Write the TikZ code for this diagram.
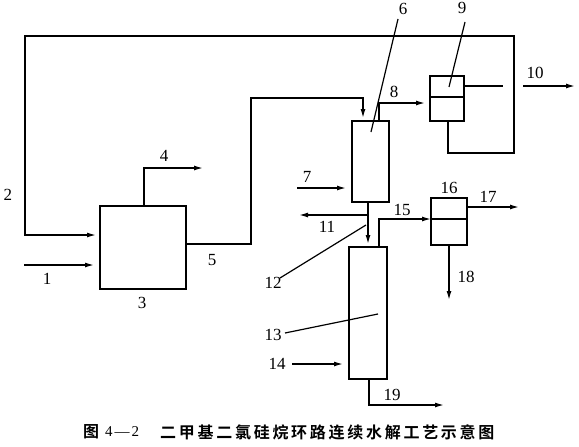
\documentclass[tikz,border=0pt]{standalone}
\usepackage{fontspec}
\setmainfont{Liberation Serif}
\newfontfamily\cjkfont[LetterSpace=17]{Noto Sans CJK SC Bold}
\newfontfamily\cjkone{Noto Sans CJK SC Bold}
\usetikzlibrary{arrows.meta}
\tikzset{
  unit/.style={draw,line width=1.4pt,minimum width=#1,inner sep=0pt,outer sep=0pt},
  num/.style={font=\fontsize{17}{17}\selectfont,inner sep=0pt},
  pipe/.style={line width=1.4pt},
  flow/.style={line width=1.4pt,-{Latex[length=9pt,width=5pt]}},
  leader/.style={line width=1.2pt}
}
\begin{document}
\begin{tikzpicture}[x=1pt,y=-1pt]
\useasboundingbox (0,0) rectangle (579,447);
% units
\node[unit=86pt,minimum height=83pt] (b3) at (143,247.5) {};
\node[unit=37pt,minimum height=81pt] (b6) at (370.5,161.5) {};
\node[unit=34pt,minimum height=45pt] (b9) at (447,98.5) {};
\node[unit=36pt,minimum height=47pt] (b16) at (449,221.5) {};
\node[unit=38pt,minimum height=132pt] (b13) at (368,313) {};
% internal dividers
\draw[pipe] (b9.west |- 0,97) -- (b9.east |- 0,97);
\draw[pipe] (b16.west |- 0,219) -- (b16.east |- 0,219);
% named free ends
\coordinate (c2a) at (25,235);
\coordinate (c2b) at (25,36);
\coordinate (c2c) at (514,36);
\coordinate (c2d) at (514,153);
\coordinate (c2e) at (448,153);
\coordinate (e2) at (96,235);
\coordinate (s1) at (24,265);
\coordinate (e1) at (94,265);
\coordinate (c4a) at (144,168);
\coordinate (e4) at (203,168);
\coordinate (c5a) at (251,244);
\coordinate (c5b) at (251,98);
\coordinate (c5c) at (363,98);
\coordinate (e5) at (363,118);
\coordinate (c8a) at (379,103);
\coordinate (e8) at (425,103);
\coordinate (s7) at (297,188);
\coordinate (e7) at (346,188);
\coordinate (e9) at (503,86);
\coordinate (s10) at (523,86);
\coordinate (e10) at (575,86);
\coordinate (j11) at (368,215);
\coordinate (e11) at (299,215);
\coordinate (e6d) at (368,244);
\coordinate (c15a) at (379,219);
\coordinate (e15) at (431,219);
\coordinate (e17) at (519,207);
\coordinate (e18) at (449,300);
\coordinate (s14) at (292,364);
\coordinate (e14) at (343,364);
\coordinate (c19a) at (369,405);
\coordinate (e19) at (444,405);
% connectors
\draw[flow] (c2e |- b9.south) -- (c2e) -- (c2d) -- (c2c) -- (c2b) -- (c2a) -- (e2);
\draw[flow] (s1) -- (e1);
\draw[flow] (c4a |- b3.north) -- (c4a) -- (e4);
\draw[flow] (b3.east |- c5a) -- (c5a) -- (c5b) -- (c5c) -- (e5);
\draw[flow] (c8a |- b6.north) -- (c8a) -- (e8);
\draw[flow] (s7) -- (e7);
\draw[pipe] (b9.east |- e9) -- (e9);
\draw[flow] (s10) -- (e10);
\draw[flow] (e6d |- b6.south) -- (e6d);
\draw[flow] (j11) -- (e11);
\draw[flow] (c15a |- b13.north) -- (c15a) -- (e15);
\draw[flow] (b16.east |- e17) -- (e17);
\draw[flow] (e18 |- b16.south) -- (e18);
\draw[flow] (s14) -- (e14);
\draw[flow] (c19a |- b13.south) -- (c19a) -- (e19);
% labels
\node[num] (l1) at (47,279) {1};
\node[num] (l2) at (8,195) {2};
\node[num] (l3) at (142,303) {3};
\node[num] (l4) at (164,156) {4};
\node[num] (l5) at (212,260) {5};
\node[num] (l6) at (403,9) {6};
\node[num] (l7) at (307,177) {7};
\node[num] (l8) at (394,92) {8};
\node[num] (l9) at (462,8) {9};
\node[num] (l10) at (535,73) {10};
\node[num] (l11) at (327,227) {11};
\node[num] (l12) at (273,283) {12};
\node[num] (l13) at (273,335) {13};
\node[num] (l14) at (277,364) {14};
\node[num] (l15) at (402,210) {15};
\node[num] (l16) at (449,188) {16};
\node[num] (l17) at (488,197) {17};
\node[num] (l18) at (466,277) {18};
\node[num] (l19) at (392,395) {19};
% leader lines
\coordinate (t6) at (371,132);
\coordinate (t9) at (449,87);
\coordinate (t12) at (366,225);
\coordinate (t13) at (378,314);
\draw[leader] (398,19) -- (t6);
\draw[leader] (465,22) -- (t9);
\draw[leader] (280,278) -- (t12);
\draw[leader] (285,333) -- (t13);
% caption
\node[inner sep=0pt,anchor=west] (capa) at (83,432) {\fontsize{16}{16}\cjkone 图};
\node[inner sep=0pt,anchor=west] (capb) at (105,432) {\fontsize{15}{16}\selectfont 4\kern2pt—\kern2pt2};
\node[inner sep=0pt,anchor=west] (capc) at (160,432) {\fontsize{16}{16}\cjkfont 二甲基二氯硅烷环路连续水解工艺示意图};
\end{tikzpicture}
\end{document}
